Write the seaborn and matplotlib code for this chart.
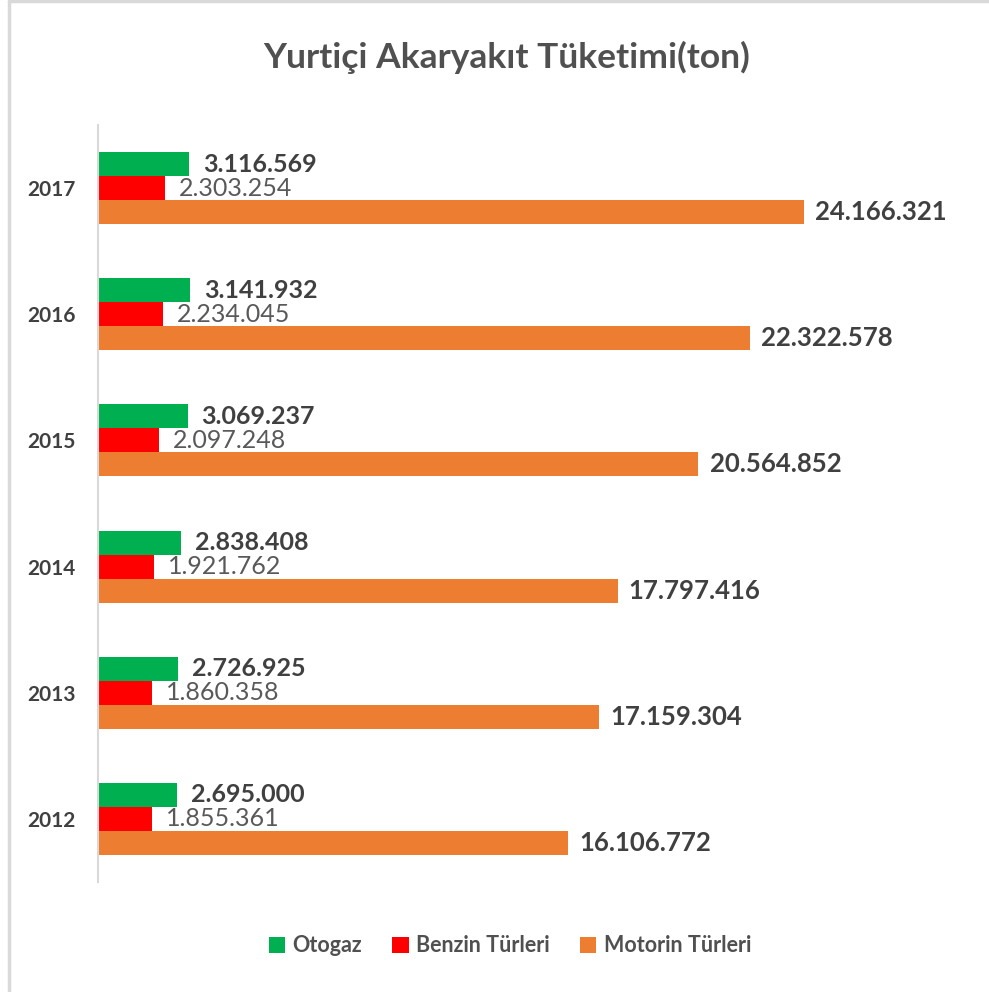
import matplotlib.pyplot as plt
import matplotlib.lines as mlines
import seaborn as sns
import pandas as pd

years = ["2017", "2016", "2015", "2014", "2013", "2012"]
otogaz = [3116569, 3141932, 3069237, 2838408, 2726925, 2695000]
benzin = [2303254, 2234045, 2097248, 1921762, 1860358, 1855361]
motorin = [24166321, 22322578, 20564852, 17797416, 17159304, 16106772]
series = ["Otogaz", "Benzin Türleri", "Motorin Türleri"]
colors = ["#00b050", "#ff0000", "#ed7d31"]

df = pd.DataFrame({
    "year": years * 3,
    "series": [series[0]] * 6 + [series[1]] * 6 + [series[2]] * 6,
    "value": otogaz + benzin + motorin,
})

sns.set_style("white")
fam = ["Lato", "DejaVu Sans"]
plt.rcParams["font.family"] = fam

fig = plt.figure(figsize=(9.89, 9.92), dpi=100)
ax = fig.add_axes([98 / 989, 1 - 882 / 992, 876 / 989, 757 / 992])

sns.barplot(data=df, y="year", x="value", hue="series", order=years,
            hue_order=series, palette=colors, orient="h", width=0.57,
            saturation=1, linewidth=0, ax=ax, legend=True)

def fmt(v):
    return f"{v:,.0f}".replace(",", ".")

styles = [("bold", "#404040", 18, 10), ("normal", "#595959", 18, 10),
          ("bold", "#404040", 18.5, 8)]
for cont, (w, c, fs, pad) in zip(ax.containers, styles):
    ax.bar_label(cont, labels=[fmt(b.get_width()) for b in cont], padding=pad,
                 fontsize=fs, fontweight=w, color=c, family=fam)

ax.set_xlim(0, 30000000)
ax.set_ylim(5.5, -0.5)
ax.set_xlabel("")
ax.set_ylabel("")
ax.set_xticks([])
ax.tick_params(axis="y", length=0, pad=16)
for t in ax.get_yticklabels():
    t.set_fontsize(15)
    t.set_fontweight("bold")
    t.set_color("#404040")
    t.set_family(fam)
for s in ["top", "right", "bottom"]:
    ax.spines[s].set_visible(False)
ax.spines["left"].set_color("#d9d9d9")
ax.spines["left"].set_linewidth(1.5)

ax.legend(loc="center", bbox_to_anchor=(510 / 989, 1 - 946 / 992),
          bbox_transform=fig.transFigure, ncol=3, frameon=False,
          handlelength=0.75, handleheight=0.75, handletextpad=0.35,
          columnspacing=1.4, prop={"family": fam, "size": 15.5, "weight": "bold"},
          labelcolor="#505050")

fig.text(507 / 989, 1 - 57 / 992, "Yurtiçi Akaryakıt Tüketimi(ton)", ha="center",
         va="center", fontsize=25.5, color="#505050", family=fam, fontweight="bold")

fig.add_artist(mlines.Line2D([9 / 989, 9 / 989], [0, 1 - 1 / 992], color="#d9d9d9",
                             lw=2.5, transform=fig.transFigure))
fig.add_artist(mlines.Line2D([9 / 989, 1], [1 - 1 / 992, 1 - 1 / 992], color="#d9d9d9",
                             lw=2.5, transform=fig.transFigure))

fig.savefig("out.png", dpi=100)
